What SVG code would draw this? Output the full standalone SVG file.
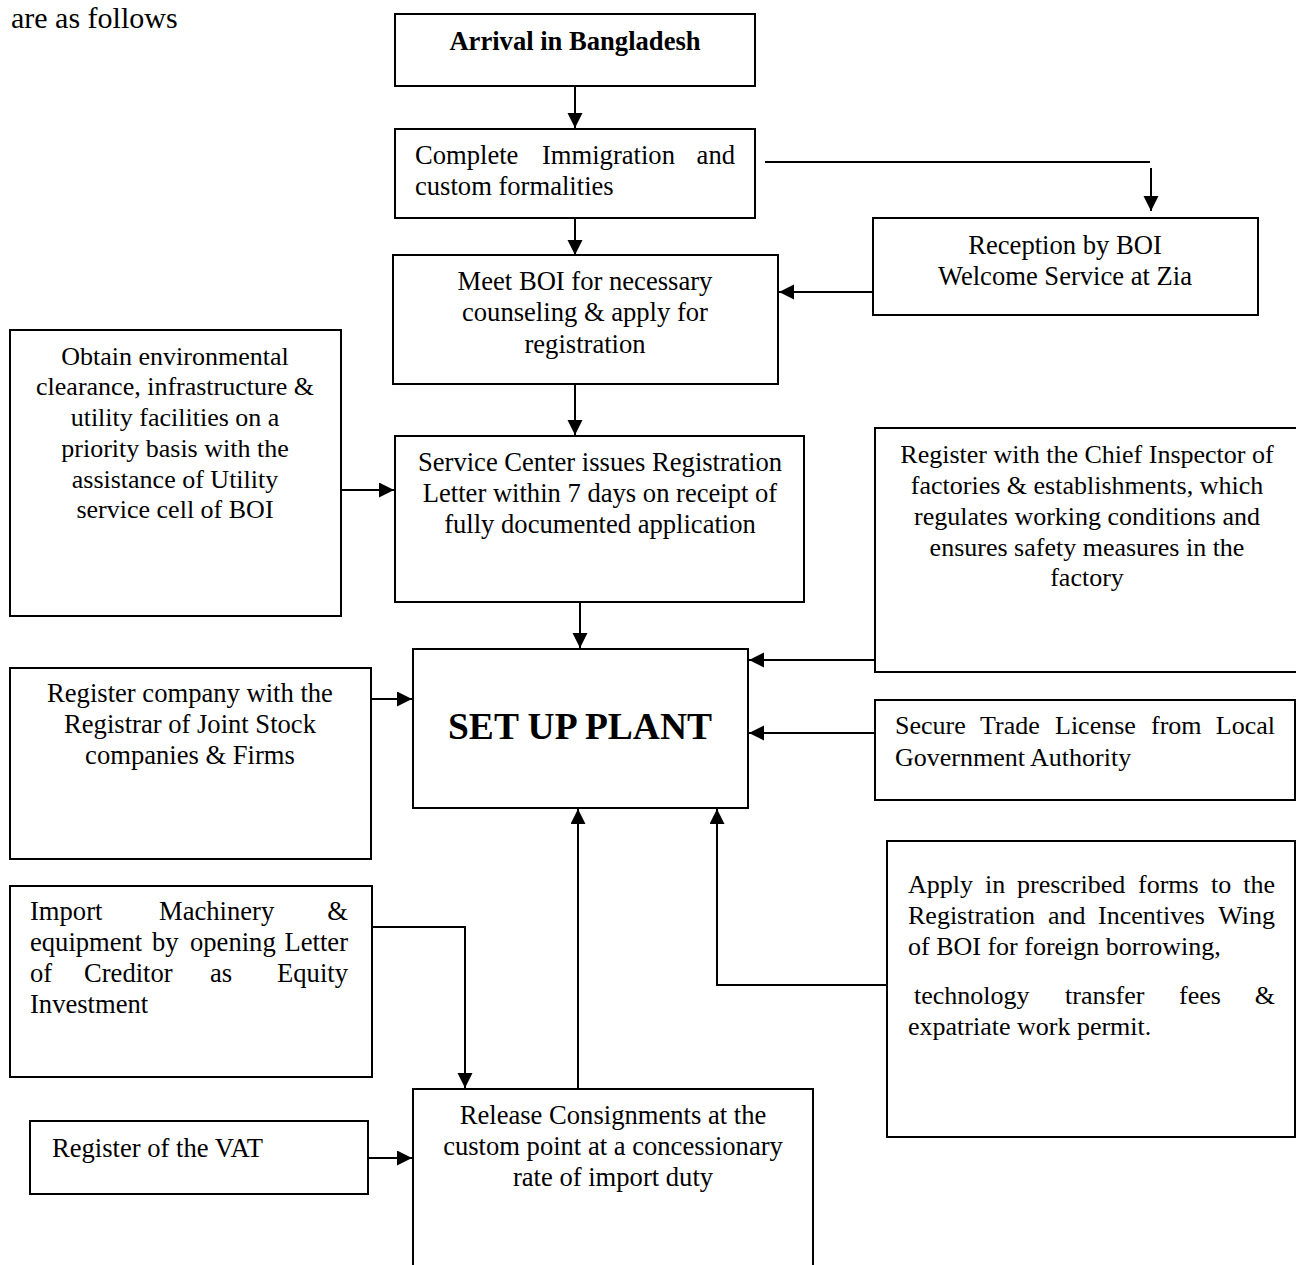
<svg xmlns="http://www.w3.org/2000/svg" width="1296" height="1265" viewBox="0 0 1296 1265">
<defs>
<marker id="ah" markerUnits="userSpaceOnUse" markerWidth="16" markerHeight="16" refX="15" refY="7.5" orient="auto">
<path d="M0,0 L15,7.5 L0,15 z" fill="#000"/>
</marker>
<style>
.box{fill:#fff;stroke:#000;stroke-width:2}
.t{font-family:"Liberation Serif","Times New Roman",serif;font-size:26.6px;fill:#000}
.s{font-size:26px}
.c{text-anchor:middle}
.b{font-weight:bold}
.ln{fill:none;stroke:#000;stroke-width:2}
</style>
</defs>
<rect width="1296" height="1265" fill="#fff"/>
<text class="t" x="11" y="28" font-family="Liberation Serif, Times New Roman, serif" style="font-size:30px">are as follows</text>

<g id="connectors">
<path class="ln" d="M575,86 V128" marker-end="url(#ah)"/>
<path class="ln" d="M575,218 V255" marker-end="url(#ah)"/>
<path class="ln" d="M765,162 H1150"/>
<path class="ln" d="M1151,168 V211" marker-end="url(#ah)"/>
<path class="ln" d="M875,292 H779" marker-end="url(#ah)"/>
<path class="ln" d="M575,384 V435" marker-end="url(#ah)"/>
<path class="ln" d="M341,490 H394" marker-end="url(#ah)"/>
<path class="ln" d="M580,602 V648" marker-end="url(#ah)"/>
<path class="ln" d="M875,660 H749" marker-end="url(#ah)"/>
<path class="ln" d="M875,733 H749" marker-end="url(#ah)"/>
<path class="ln" d="M371,699 H412" marker-end="url(#ah)"/>
<path class="ln" d="M372,927 H465 V1088" marker-end="url(#ah)"/>
<path class="ln" d="M578,1089 V809" marker-end="url(#ah)"/>
<path class="ln" d="M888,985 H717 V809" marker-end="url(#ah)"/>
<path class="ln" d="M368,1158 H412" marker-end="url(#ah)"/>
</g>

<g id="arrival">
<rect class="box" x="395" y="14" width="360" height="72"/>
<text class="t c b" x="575" y="50">Arrival in Bangladesh</text>
</g>

<g id="immigration">
<rect class="box" x="395" y="129" width="360" height="89"/>
<text class="t" y="164"><tspan x="415">Complete</tspan><tspan x="542">Immigration</tspan><tspan x="735" text-anchor="end">and</tspan></text>
<text class="t" x="415" y="195">custom formalities</text>
</g>

<g id="reception">
<rect class="box" x="873" y="218" width="385" height="97"/>
<text class="t c" x="1065" y="254">Reception by BOI</text>
<text class="t c" x="1065" y="285">Welcome Service at Zia</text>
</g>

<g id="meet">
<rect class="box" x="393" y="255" width="385" height="129"/>
<text class="t c" x="585" y="290">Meet BOI for necessary</text>
<text class="t c" x="585" y="321">counseling &amp; apply for</text>
<text class="t c" x="585" y="353">registration</text>
</g>

<g id="obtain">
<rect class="box" x="10" y="330" width="331" height="286"/>
<text class="t c s" x="175" y="365">Obtain environmental</text>
<text class="t c s" x="175" y="395">clearance, infrastructure &amp;</text>
<text class="t c s" x="175" y="426">utility facilities on a</text>
<text class="t c s" x="175" y="457">priority basis with the</text>
<text class="t c s" x="175" y="488">assistance of Utility</text>
<text class="t c s" x="175" y="518">service cell of BOI</text>
</g>

<g id="service">
<rect class="box" x="395" y="436" width="409" height="166"/>
<text class="t c" x="600" y="471">Service Center issues Registration</text>
<text class="t c" x="600" y="502">Letter within 7 days on receipt of</text>
<text class="t c" x="600" y="533">fully documented application</text>
</g>

<g id="chief">
<rect class="box" x="875" y="428" width="430" height="244"/>
<text class="t c s" x="1087" y="463">Register with the Chief Inspector of</text>
<text class="t c s" x="1087" y="494">factories &amp; establishments, which</text>
<text class="t c s" x="1087" y="525">regulates working conditions and</text>
<text class="t c s" x="1087" y="556">ensures safety measures in the</text>
<text class="t c s" x="1087" y="586">factory</text>
</g>

<g id="setup">
<rect class="box" x="413" y="649" width="335" height="159"/>
<text class="t c b" x="580" y="739" style="font-size:37.5px">SET UP PLANT</text>
</g>

<g id="regcompany">
<rect class="box" x="10" y="668" width="361" height="191"/>
<text class="t c" x="190" y="702">Register company with the</text>
<text class="t c" x="190" y="733">Registrar of Joint Stock</text>
<text class="t c" x="190" y="764">companies &amp; Firms</text>
</g>

<g id="trade">
<rect class="box" x="875" y="700" width="420" height="100"/>
<text class="t s" y="734"><tspan x="895">Secure</tspan><tspan x="980">Trade</tspan><tspan x="1055">License</tspan><tspan x="1151">from</tspan><tspan x="1275" text-anchor="end">Local</tspan></text>
<text class="t s" x="895" y="766">Government Authority</text>
</g>

<g id="import">
<rect class="box" x="10" y="886" width="362" height="191"/>
<text class="t" y="920"><tspan x="30">Import</tspan><tspan x="159">Machinery</tspan><tspan x="348" text-anchor="end">&amp;</tspan></text>
<text class="t" y="951"><tspan x="30">equipment</tspan><tspan x="152">by</tspan><tspan x="190">opening</tspan><tspan x="348" text-anchor="end">Letter</tspan></text>
<text class="t" y="982"><tspan x="30">of</tspan><tspan x="84">Creditor</tspan><tspan x="210">as</tspan><tspan x="348" text-anchor="end">Equity</tspan></text>
<text class="t" x="30" y="1013">Investment</text>
</g>

<g id="apply">
<rect class="box" x="887" y="841" width="408" height="296"/>
<text class="t s" y="893"><tspan x="908">Apply</tspan><tspan x="985">in</tspan><tspan x="1017">prescribed</tspan><tspan x="1138">forms</tspan><tspan x="1211">to</tspan><tspan x="1275" text-anchor="end">the</tspan></text>
<text class="t s" y="924"><tspan x="908">Registration</tspan><tspan x="1048">and</tspan><tspan x="1098">Incentives</tspan><tspan x="1275" text-anchor="end">Wing</tspan></text>
<text class="t s" x="908" y="955">of BOI for foreign borrowing,</text>
<text class="t s" y="1004"><tspan x="914">technology</tspan><tspan x="1065">transfer</tspan><tspan x="1179">fees</tspan><tspan x="1275" text-anchor="end">&amp;</tspan></text>
<text class="t s" x="908" y="1035">expatriate work permit.</text>
</g>

<g id="release">
<rect class="box" x="413" y="1089" width="400" height="190"/>
<text class="t c" x="613" y="1124">Release Consignments at the</text>
<text class="t c" x="613" y="1155">custom point at a concessionary</text>
<text class="t c" x="613" y="1186">rate of import duty</text>
</g>

<g id="vat">
<rect class="box" x="30" y="1121" width="338" height="73"/>
<text class="t" x="52" y="1157">Register of the VAT</text>
</g>
</svg>
